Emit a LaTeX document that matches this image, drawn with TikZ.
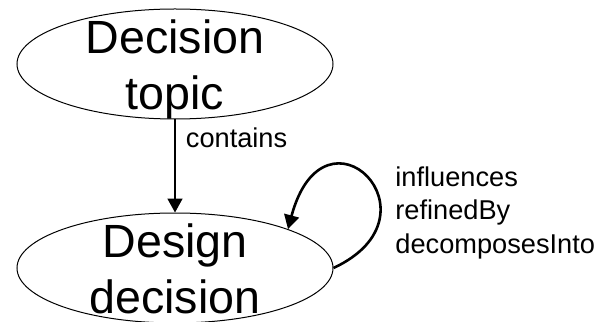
\documentclass[tikz,border=0pt]{standalone}
\usepackage{fontspec}
\setmainfont{Liberation Sans}
\usetikzlibrary{arrows.meta, positioning, shapes.geometric}

\begin{document}
\begin{tikzpicture}[
            x = 0.5pt, y = 0.5pt, % one unit per pixel of the reference
            > = {Triangle[length=7pt, width=7.5pt]}, % arrow head style
            node distance = 46.5pt % gap between the two ellipses
        ]

        \tikzstyle{concept}=[
            ellipse,
            draw = black,
            line width = 0.5pt,
            minimum width = 158pt,
            minimum height = 55pt,
            inner xsep = 0pt,
            inner ysep = -20pt, % big text must not grow the ellipse
            align = center,
            text height = 45.5pt, % drops the last line below the centre
            text depth = 0pt,
            font = \fontsize{23.3pt}{28pt}\selectfont
        ]
        \tikzstyle{relation}=[
            inner sep = 0pt,
            font = \fontsize{13.6pt}{16.65pt}\selectfont
        ]

        \useasboundingbox (0,0) rectangle (603,321);

        \node[concept] (topic) at (175,257) {Decision \\ topic};
        \node[concept] (decision) [below=of topic] {Design \\ decision};
        \node[relation, anchor=base west, align=left] (kinds) at (395,68) {influences \\ refinedBy \\ decomposesInto};

        \path[->, line width=0.9pt] (topic) edge node[relation, anchor=base west, pos=0.3, xshift=5pt] {contains} (decision);
        \draw[->, line width=1.3pt] (decision.east) .. controls +(25:125) and +(75:140) .. (decision.19);

\end{tikzpicture}
\end{document}
